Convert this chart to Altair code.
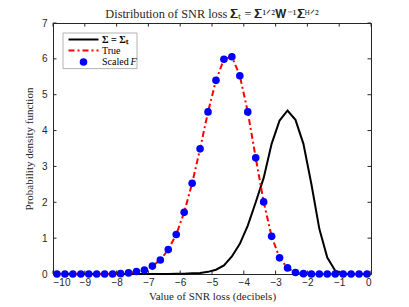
import altair as alt
import pandas as pd

# bin centres (decibels)
x_vals = [-9.875, -9.625, -9.375, -9.125, -8.875, -8.625, -8.375, -8.125,
          -7.875, -7.625, -7.375, -7.125, -6.875, -6.625, -6.375, -6.125,
          -5.875, -5.625, -5.375, -5.125, -4.875, -4.625, -4.375, -4.125,
          -3.875, -3.625, -3.375, -3.125, -2.875, -2.625, -2.375, -2.125,
          -1.875, -1.625, -1.375, -1.125, -0.875, -0.625, -0.375, -0.125]

# Sigma = Sigma_t (black solid)
sigma_t = [0, 0, 0, 0, 0, 0, 0, 0,
           0, 0, 0, 0, 0, 0, 0, 0.005,
           0.01, 0.02, 0.03, 0.06, 0.12, 0.24, 0.49, 0.84,
           1.35, 2.0, 2.68, 3.63, 4.28, 4.56, 4.30, 3.63,
           2.51, 1.26, 0.46, 0.09, 0.01, 0, 0, 0]

# True (red dash-dot)
true_pdf = [0, 0, 0, 0, 0, 0, 0, 0,
            0.01, 0.03, 0.07, 0.11, 0.22, 0.39, 0.68, 1.10,
            1.72, 2.53, 3.49, 4.52, 5.40, 5.99, 6.06, 5.53,
            4.52, 3.24, 2.01, 1.05, 0.45, 0.17, 0.04, 0.01,
            0, 0, 0, 0, 0, 0, 0, 0]

# Scaled F (blue dots)
scaled_f = [0, 0, 0, 0, 0, 0, 0, 0,
            0.01, 0.03, 0.07, 0.11, 0.22, 0.39, 0.68, 1.10,
            1.72, 2.53, 3.49, 4.52, 5.40, 5.99, 6.06, 5.53,
            4.52, 3.24, 2.01, 1.05, 0.45, 0.17, 0.04, 0.01,
            0, 0, 0, 0, 0, 0, 0, 0]

x_ticks = [-10, -9, -8, -7, -6, -5, -4, -3, -2, -1, 0]
y_ticks = [0, 1, 2, 3, 4, 5, 6, 7]

TITLE = "Distribution of SNR loss 𝚺ₜ = 𝚺¹ᐟ²𝐖⁻¹𝚺ᴴᐟ²"

W, H = 318, 251
AX = "#262626"
SERIF = "Liberation Serif"
SANS = "Liberation Sans"

df = pd.DataFrame({"x": x_vals, "sig": sigma_t, "tru": true_pdf, "sf": scaled_f})
xt = pd.DataFrame({"x": x_ticks})
yt = pd.DataFrame({"y": y_ticks})
one = pd.DataFrame({"a": [0]})

xs = alt.Scale(domain=[-10, 0], nice=False, zero=False)
ys = alt.Scale(domain=[0, 7], nice=False)

x_axis = alt.Axis(values=x_ticks, format="d", title="Value of SNR loss (decibels)",
                  grid=False, domain=False, ticks=False, labelFont=SANS, labelFontSize=10,
                  labelColor=AX, labelPadding=3, titleFont=SERIF, titleFontSize=11,
                  titleFontWeight="normal", titleColor=AX, titlePadding=3)
y_axis = alt.Axis(values=y_ticks, format="d", title="Probability density function",
                  grid=False, domain=False, ticks=False, labelFont=SANS, labelFontSize=10,
                  labelColor=AX, labelPadding=6, titleFont=SERIF, titleFontSize=11,
                  titleFontWeight="normal", titleColor=AX, titlePadding=7)

X = alt.X("x:Q", scale=xs, axis=x_axis)


def Y(field):
    return alt.Y(f"{field}:Q", scale=ys, axis=y_axis)


black = alt.Chart(df).mark_line(color="black", strokeWidth=2).encode(x=X, y=Y("sig"))

red = alt.Chart(df).mark_line(color="#ff0000", strokeWidth=2, strokeDash=[6, 3, 2, 3]).encode(
    x=X, y=Y("tru"))

blue = alt.Chart(df).mark_point(filled=True, shape="circle", size=58, color="#0000ff", opacity=1).encode(
    x=X, y=Y("sf"))

TL = 3.5
tick_bottom = alt.Chart(xt).mark_rule(color=AX, strokeWidth=1).encode(
    x=X, y=alt.value(H), y2=alt.value(H - TL))
tick_top = alt.Chart(xt).mark_rule(color=AX, strokeWidth=1).encode(
    x=X, y=alt.value(0), y2=alt.value(TL))
tick_left = alt.Chart(yt).mark_rule(color=AX, strokeWidth=1).encode(
    y=Y("y"), x=alt.value(0), x2=alt.value(TL))
tick_right = alt.Chart(yt).mark_rule(color=AX, strokeWidth=1).encode(
    y=Y("y"), x=alt.value(W), x2=alt.value(W - TL))

# title as text mark above the plot
title = alt.Chart(one).mark_text(text=TITLE, font=SERIF, fontSize=12.3, color=AX,
                                 align="center", baseline="alphabetic").encode(
    x=alt.value(W / 2), y=alt.value(-5.5))

# legend (manual)
leg_box = alt.Chart(one).mark_rect(fill="white", stroke="#a0a0a0", strokeWidth=0.8).encode(
    x=alt.value(10), x2=alt.value(84), y=alt.value(10), y2=alt.value(45.6))
leg_black = alt.Chart(one).mark_rule(color="black", strokeWidth=2).encode(
    x=alt.value(15.5), x2=alt.value(45.5), y=alt.value(16.5))
leg_red = alt.Chart(one).mark_rule(color="#ff0000", strokeWidth=2, strokeDash=[6, 3, 2, 3]).encode(
    x=alt.value(15.5), x2=alt.value(45.5), y=alt.value(27.5))
leg_dot = alt.Chart(one).mark_point(filled=True, shape="circle", size=58, color="#0000ff", opacity=1).encode(
    x=alt.value(30.5), y=alt.value(39))
leg_t1 = alt.Chart(one).mark_text(text="Σ = Σₜ", font=SERIF, fontSize=10, fontWeight="bold",
                                  align="left", baseline="middle", color="black").encode(
    x=alt.value(49), y=alt.value(16.5))
leg_t2 = alt.Chart(one).mark_text(text="True", font=SERIF, fontSize=10,
                                  align="left", baseline="middle", color="black").encode(
    x=alt.value(49), y=alt.value(27.5))
leg_t3 = alt.Chart(one).mark_text(text="Scaled", font=SERIF, fontSize=10,
                                  align="left", baseline="middle", color="black").encode(
    x=alt.value(49), y=alt.value(39))
leg_t4 = alt.Chart(one).mark_text(text="F", font=SERIF, fontSize=10, fontStyle="italic",
                                  align="left", baseline="middle", color="black").encode(
    x=alt.value(77.5), y=alt.value(39))

chart = alt.layer(
    black, red, blue,
    tick_bottom, tick_top, tick_left, tick_right, title,
    leg_box, leg_black, leg_red, leg_dot, leg_t1, leg_t2, leg_t3, leg_t4
).properties(
    width=W, height=H,
    autosize=alt.AutoSizeParams(type="none"),
    padding={"left": 45, "top": 15, "right": 30, "bottom": 33},
    background="white",
).configure_view(stroke=AX, strokeWidth=1)

chart.save("out.html", embed_options={"renderer": "svg", "actions": False})
